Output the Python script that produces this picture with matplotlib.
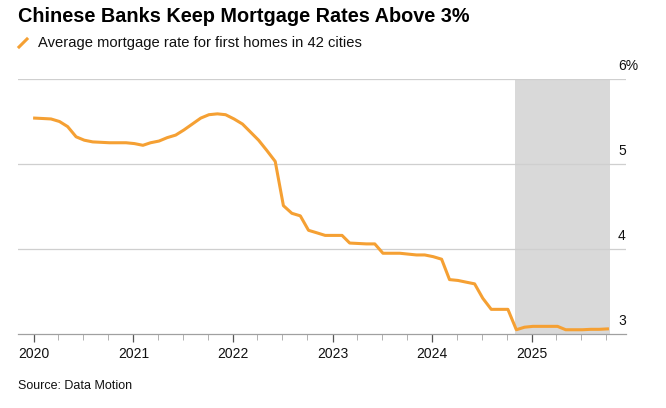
import numpy as np
import pandas as pd
import matplotlib
matplotlib.use("Agg")
import matplotlib.pyplot as plt
import matplotlib.dates as mdates
import matplotlib.transforms as mtransforms

# monthly average first-home mortgage rate, Jan 2020 - Oct 2025 (%)
months = pd.date_range("2020-01-01", "2025-10-01", freq="MS")
rates = [
    5.54, 5.535, 5.53, 5.50, 5.44, 5.32, 5.28, 5.26, 5.255, 5.25, 5.25, 5.25,   # 2020
    5.24, 5.22, 5.25, 5.27, 5.31, 5.34, 5.40, 5.47, 5.54, 5.58, 5.59, 5.58,     # 2021
    5.53, 5.47, 5.38, 5.28, 5.16, 5.03, 4.51, 4.42, 4.39, 4.22, 4.19, 4.16,     # 2022
    4.16, 4.16, 4.07, 4.065, 4.06, 4.06, 3.95, 3.95, 3.95, 3.94, 3.93, 3.93,    # 2023
    3.91, 3.88, 3.64, 3.63, 3.61, 3.59, 3.42, 3.29, 3.29, 3.29, 3.05, 3.08,     # 2024
    3.09, 3.09, 3.09, 3.09, 3.05, 3.05, 3.05, 3.055, 3.055, 3.06,               # 2025
]
y_ticks = [3, 4, 5, 6]
y_labels = ["3", "4", "5", "6%"]
shade_start = months[58]
shade_end = months[-1]

plt.rcParams['font.family'] = ['Liberation Sans', 'DejaVu Sans']

fig = plt.figure(figsize=(6.66, 4.08), dpi=100)
W, H = 666, 408
ax = fig.add_axes([18 / W, 1 - 334 / H, (626 - 18) / W, (334 - 79) / H])

ax.axvspan(shade_start, shade_end + pd.Timedelta(days=12), color="#d9d9d9", lw=0, zorder=0)
for v in y_ticks[1:]:
    ax.axhline(v, color="#cfcfcf", lw=0.9, zorder=1)

ax.plot(months + pd.Timedelta(days=4), rates, color="#f5a033", lw=2.2, zorder=3,
        solid_joinstyle="round")

ax.set_ylim(3, 6)
ax.set_xlim(pd.Timestamp("2019-11-05"), pd.Timestamp("2025-12-12"))

for s in ["top", "right", "left"]:
    ax.spines[s].set_visible(False)
ax.spines["bottom"].set_color("#a0a0a0")
ax.spines["bottom"].set_linewidth(0.9)
ax.set_yticks([])

ax.xaxis.set_major_locator(mdates.YearLocator())
ax.xaxis.set_major_formatter(mdates.DateFormatter("%Y"))
ax.xaxis.set_minor_locator(mdates.MonthLocator(bymonth=[4, 7, 10]))
ax.tick_params(axis="x", which="major", length=6, width=0.9, color="#555555",
               labelsize=10, pad=3, labelcolor="#111111")
ax.tick_params(axis="x", which="minor", length=4, width=0.7, color="#b0b0b0")

trans = mtransforms.blended_transform_factory(ax.transAxes, ax.transData)
for v, lab in zip(y_ticks, y_labels):
    ax.text(0.987, v + 0.07, lab, transform=trans, ha="left", va="bottom",
            fontsize=10, color="#111111")

fig.text(18 / W, 1 - 17 / H, "Chinese Banks Keep Mortgage Rates Above 3%",
         fontsize=14.3, fontweight="bold", va="center", ha="left", color="#000000")
fig.lines.append(plt.Line2D([19 / W, 27 / W], [1 - 47 / H, 1 - 39 / H],
                            transform=fig.transFigure, color="#f5a033", lw=2.2))
fig.text(38 / W, 1 - 43 / H, "Average mortgage rate for first homes in 42 cities",
         fontsize=10.6, va="center", ha="left", color="#111111")
fig.text(18 / W, 1 - 386 / H, "Source: Data Motion",
         fontsize=9, va="center", ha="left", color="#111111")

fig.savefig("out.png", dpi=100)
